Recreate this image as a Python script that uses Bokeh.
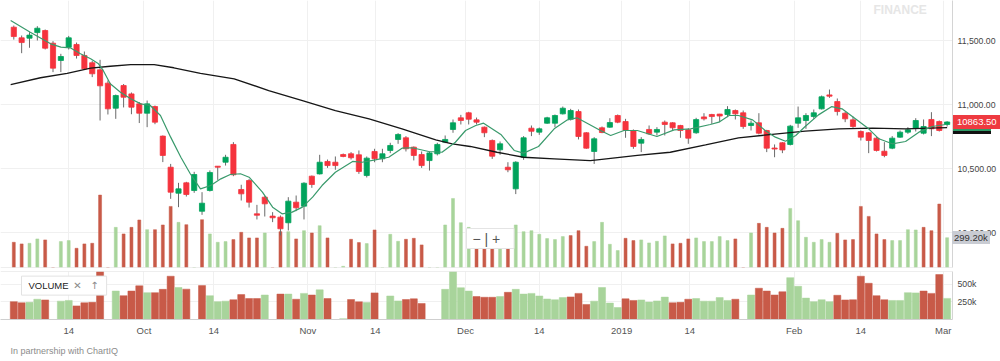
import numpy as np
from bokeh.plotting import figure
from bokeh.models import (Range1d, FixedTicker, NumeralTickFormatter, Label, Span,
                          Title, ColumnDataSource, GridBox, Div)
from bokeh.embed import file_html
from bokeh.resources import INLINE

# ---------------- data ----------------
opens = [11604, 11521, 11518, 11562, 11578, 11479, 11344, 11448, 11469, 11383,
         11326, 11271, 11167, 10971, 11148, 11083, 11005, 10932, 10984, 10753,
         10510, 10307, 10388, 10328, 10166, 10328, 10518, 10549, 10688, 10336,
         10406, 10146, 10276, 10128, 10120, 10076, 10237, 10206, 10440, 10458,
         10555, 10549, 10609, 10615, 10607, 10445, 10633, 10576, 10641, 10727,
         10740, 10667, 10609, 10562, 10615, 10706, 10805, 10896, 10935, 10880,
         10823, 10719, 10646, 10510, 10341, 10588, 10815, 10784, 10854, 10854,
         10927, 10885, 10945, 10779, 10633, 10818, 10823, 10914, 10867, 10797,
         10698, 10805, 10784, 10862, 10857, 10836, 10802, 10779, 10903, 10922,
         10925, 10922, 10953, 10935, 10836, 10857, 10797, 10660, 10701, 10688,
         10854, 10875, 10906, 10966, 11075, 11023, 10932, 10880, 10789, 10779,
         10737, 10635, 10659, 10745, 10784, 10815, 10776, 10883, 10867, 10844]
highs = [11617, 11539, 11565, 11612, 11586, 11495, 11396, 11536, 11484, 11414,
         11341, 11349, 11188, 11078, 11160, 11094, 11019, 11031, 10992, 10758,
         10536, 10388, 10396, 10474, 10315, 10485, 10518, 10607, 10706, 10373,
         10418, 10216, 10284, 10159, 10133, 10276, 10289, 10393, 10445, 10607,
         10570, 10594, 10617, 10628, 10641, 10594, 10654, 10654, 10701, 10776,
         10753, 10672, 10633, 10633, 10701, 10758, 10883, 10919, 10943, 10898,
         10828, 10727, 10711, 10549, 10557, 10753, 10836, 10820, 10904, 10922,
         10984, 10966, 10961, 10784, 10745, 10828, 10893, 10922, 10888, 10805,
         10745, 10836, 10823, 10875, 10862, 10841, 10815, 10896, 10932, 10927,
         10927, 10987, 10961, 10953, 10875, 10932, 10802, 10688, 10706, 10841,
         10984, 10932, 10961, 11070, 11117, 11047, 10943, 10906, 10797, 10784,
         10745, 10706, 10753, 10797, 10823, 10893, 10883, 10940, 10875, 10870]
lows = [11507, 11401, 11443, 11500, 11430, 11253, 11253, 11430, 11359, 11271,
        11214, 10875, 10922, 10888, 10977, 10924, 10855, 10823, 10846, 10550,
        10263, 10198, 10281, 10310, 10138, 10320, 10411, 10523, 10440, 10250,
        10195, 10102, 10125, 10081, 9977, 10016, 10167, 10102, 10349, 10453,
        10505, 10490, 10588, 10570, 10458, 10430, 10549, 10549, 10620, 10693,
        10633, 10563, 10505, 10484, 10602, 10698, 10779, 10844, 10844, 10844,
        10745, 10575, 10607, 10471, 10300, 10568, 10753, 10763, 10849, 10823,
        10922, 10875, 10727, 10654, 10536, 10776, 10818, 10854, 10740, 10654,
        10628, 10763, 10758, 10758, 10800, 10740, 10693, 10771, 10875, 10849,
        10862, 10901, 10883, 10810, 10797, 10766, 10628, 10588, 10620, 10680,
        10818, 10810, 10888, 10961, 11052, 10914, 10862, 10818, 10719, 10620,
        10633, 10588, 10651, 10740, 10771, 10789, 10766, 10753, 10789, 10828]
closes = [11531, 11484, 11542, 11596, 11440, 11284, 11375, 11521, 11383, 11279,
          11240, 11146, 10966, 11070, 11057, 10979, 10932, 11005, 10862, 10602,
          10315, 10341, 10297, 10453, 10229, 10469, 10510, 10588, 10451, 10302,
          10237, 10135, 10224, 10115, 10029, 10245, 10193, 10385, 10375, 10549,
          10523, 10523, 10594, 10584, 10477, 10581, 10576, 10615, 10680, 10766,
          10654, 10602, 10523, 10622, 10688, 10727, 10857, 10875, 10885, 10862,
          10779, 10596, 10693, 10490, 10549, 10740, 10791, 10810, 10896, 10914,
          10971, 10953, 10750, 10659, 10732, 10781, 10859, 10862, 10797, 10672,
          10727, 10771, 10805, 10844, 10818, 10797, 10737, 10882, 10888, 10906,
          10910, 10961, 10927, 10828, 10854, 10776, 10659, 10652, 10645, 10831,
          10896, 10914, 10935, 11060, 11065, 10945, 10888, 10828, 10745, 10719,
          10641, 10602, 10737, 10784, 10802, 10875, 10828, 10810, 10797, 10863.5]
# volume in thousands (0 = no volume reported that day)
volumes_k = [253, 237, 243, 287, 277, 0, 260, 270, 193, 237,
             243, 727, 0, 403, 337, 403, 477, 380, 380, 427,
             613, 453, 430, 0, 480, 337, 253, 260, 280, 353,
             297, 297, 347, 0, 360, 360, 287, 370, 347, 420,
             297, 0, 12, 283, 250, 240, 377, 0, 333, 263,
             283, 293, 227, 0, 0, 427, 693, 450, 403, 325,
             315, 315, 325, 385, 427, 360, 370, 333, 290, 280,
             310, 320, 370, 213, 260, 453, 233, 170, 293, 270,
             277, 247, 263, 317, 237, 243, 287, 297, 260, 260,
             310, 270, 287, 0, 347, 443, 403, 347, 393, 593,
             470, 303, 253, 280, 253, 343, 277, 280, 613, 513,
             337, 280, 270, 270, 380, 377, 403, 370, 637, 299.2]

# short moving average (green) read at sample positions (bar index, price)
ma_short_x = [-0.4, 2.1, 4.7, 6.0, 7.2, 8.5, 9.8, 10.8, 11.4, 12.3,
              13.6, 14.9, 16.2, 17.4, 18.7, 20.0, 21.3, 22.5, 23.8, 25.1,
              26.4, 27.6, 28.9, 30.0, 31.7, 33.0, 34.2, 35.5, 36.8, 38.1,
              39.3, 41.0, 43.2, 44.4, 46.1, 47.8, 49.5, 50.8, 52.9, 54.6,
              56.3, 57.6, 58.9, 59.9, 62.1, 63.8, 65.0, 66.9, 68.9, 70.6,
              71.8, 73.1, 74.8, 76.1, 77.8, 79.5, 82.0, 84.2, 86.3, 88.8,
              89.9, 91.2, 92.4, 94.2, 95.8, 97.1, 98.4, 99.7, 100.9, 102.6,
              104.3, 105.6, 107.3, 109.0, 110.3, 112.0, 113.7, 115.4, 117.1, 118.8]
ma_short_y = [11656, 11565, 11474, 11448, 11443, 11396, 11357, 11318, 11266, 11162,
              11096, 11045, 11005, 10992, 10914, 10745, 10588, 10459, 10341, 10367,
              10419, 10453, 10459, 10432, 10315, 10198, 10146, 10159, 10198, 10276,
              10367, 10471, 10555, 10549, 10568, 10588, 10659, 10662, 10633, 10627,
              10705, 10797, 10836, 10854, 10766, 10641, 10620, 10672, 10810, 10880,
              10896, 10854, 10797, 10758, 10797, 10797, 10750, 10802, 10810, 10844,
              10862, 10914, 10914, 10880, 10797, 10745, 10713, 10758, 10828, 10919,
              10984, 10966, 10888, 10810, 10732, 10693, 10711, 10784, 10828, 10844]
# long moving average (black)
ma_long_x = [-0.4, 3.4, 6.8, 9.8, 12.3, 14.9, 17.9, 20.4, 23.8, 28.1,
             32.5, 36.8, 41.0, 45.3, 49.5, 53.8, 55.9, 58.2, 61.6, 65.0,
             68.9, 73.5, 74.4, 79.5, 83.7, 88.2, 92.4, 96.7, 100.9, 105.2,
             109.5, 113.7, 117.9, 119.0]
ma_long_y = [11156, 11209, 11244, 11284, 11299, 11312, 11312, 11287, 11244, 11201,
             11109, 11031, 10953, 10888, 10810, 10724, 10693, 10672, 10627, 10588,
             10576, 10562, 10568, 10602, 10627, 10685, 10740, 10766, 10792, 10810,
             10815, 10810, 10818, 10820]

tick_pos = [7.0, 16.6, 25.5, 37.5, 46.1, 57.6, 67.0, 77.5, 86.2, 99.5, 108.0, 118.5]
tick_labels = ["14", "Oct", "14", "Nov", "14", "Dec", "14", "2019", "14", "Feb", "14", "Mar"]
price_ticks = [10000, 10500, 11000, 11500]
vol_ticks = [250000, 500000]
vol_tick_labels = ["250k", "500k"]

# ---------------- styling ----------------
FONT = "Liberation Sans"
UP, DOWN = "#00a35c", "#f5333d"
VUP, VDOWN = "#a8d49b", "#c85a48"
WICK = "#6a6a6a"
GRID = "#f0f0f0"

o = np.array(opens, float); h = np.array(highs, float)
l = np.array(lows, float); c = np.array(closes, float)
vol = np.array(volumes_k, float) * 1000
n = len(c)
idx = np.arange(n)
prev = np.r_[o[0], c[:-1]]
body_col = np.where(c >= o, UP, DOWN)
vol_col = np.where(c >= prev, VUP, VDOWN)

src = ColumnDataSource(dict(x=idx, o=o, h=h, l=l, c=c,
                            top=np.maximum(o, c), bot=np.minimum(o, c),
                            vol=vol, bc=body_col, vc=vol_col))

# layout geometry
FRAME_W = 952
AXIS_W = 48
MAIN_H = 267
LOW_H = 51
X0 = -13.3 / 7.843
X1 = X0 + FRAME_W / 7.843
P0, P1 = 9726.6, 11812.5
V_MAIN_END = 2680000
V_LOW_END = 680000

def x_of(px):
    return X0 + px * (X1 - X0) / FRAME_W

def main_y(px):
    return P1 - px * (P1 - P0) / MAIN_H

def low_y(px):  # px measured from top of lower frame
    return V_LOW_END * (LOW_H - px) / LOW_H

xr = Range1d(X0, X1)
price_range = Range1d(P0, P1)
vol_range = Range1d(0, V_MAIN_END)

main = figure(width=FRAME_W + AXIS_W, height=MAIN_H + 2, x_range=xr, y_range=price_range,
              output_backend="svg", toolbar_location=None,
              min_border_left=0, min_border_right=AXIS_W, min_border_top=0, min_border_bottom=2,
              x_axis_location=None, y_axis_location="right",
              background_fill_color="white", border_fill_color="white")
main.outline_line_color = None
main.extra_y_ranges = {"vol": vol_range}

ya = main.yaxis[0]
ya.ticker = FixedTicker(ticks=price_ticks)
ya.formatter = NumeralTickFormatter(format="0,0.00")
ya.major_tick_line_color = None
ya.major_tick_out = 0
ya.major_tick_in = 0
ya.minor_tick_line_color = None
ya.minor_tick_out = 0
ya.axis_line_color = "#d4d4d4"
ya.major_label_text_font = FONT
ya.major_label_text_font_size = "8.7px"
ya.major_label_text_color = "#444444"
ya.major_label_standoff = 5

main.ygrid.ticker = FixedTicker(ticks=price_ticks)
main.ygrid.grid_line_color = GRID
main.xgrid.ticker = FixedTicker(ticks=tick_pos)
main.xgrid.grid_line_color = GRID

# volume overlay in price panel
main.vbar(x="x", top="vol", bottom=0, width=0.38, fill_color="vc", line_color="vc",
          line_width=0.5, y_range_name="vol", source=src)
# candles
main.segment(x0="x", y0="h", x1="x", y1="l", line_color=WICK, line_width=1, source=src)
main.vbar(x="x", top="top", bottom="bot", width=0.66, fill_color="bc", line_color="bc",
          line_width=0.8, source=src)
# moving averages
main.line(ma_long_x, ma_long_y, line_color="#161616", line_width=1.3)
main.line(ma_short_x, ma_short_y, line_color="#3a9a6c", line_width=1.2)

main.add_layout(Span(location=P0, dimension="width", line_color="#dedede", line_width=1))

# watermark
main.add_layout(Label(x=x_of(873), y=main_y(9), text="FINANCE", text_font=FONT,
                      text_font_size="12px", text_font_style="bold", text_color="#e6e6e6",
                      text_baseline="alphabetic", text_align="left"))

# zoom control
main.add_layout(Label(x=x_of(466), y=main_y(238), text="\u2212  |  +", text_font=FONT,
                      text_font_size="14px", text_color="#555555", text_baseline="middle",
                      text_align="left", background_fill_color="white",
                      border_line_color="#e4e4e4", padding=dict(left=6, right=6, top=2, bottom=2)))

# ---------------- value tags over the price axis (HTML overlay in the axis cell) ----------------
def price_px(p):
    return (P1 - p) / (P1 - P0) * MAIN_H

def vol_px(v):
    return MAIN_H - v / V_MAIN_END * MAIN_H

def tag_html(center_px, text, bg, fg="#ffffff", size=9, height=14, padx=4, left=1, width=None):
    w = f"width:{width}px;" if width is not None else ""
    return (f'<div style="position:absolute;left:{left}px;top:{center_px - height / 2:.1f}px;'
            f'height:{height}px;line-height:{height}px;padding:0 {padx}px;{w}background:{bg};'
            f'color:{fg};font-family:\'{FONT}\';font-size:{size}px;white-space:nowrap;">'
            f'{text}</div>')

tags_html = ('<div style="position:relative;width:%dpx;height:%dpx;">' % (AXIS_W, MAIN_H + 2)
             # moving-average tags, almost fully hidden behind the price tag
             + tag_html(price_px(ma_long_y[-1]), "", "#111111", width=38)
             + tag_html(price_px(ma_short_y[-1]), "", "#2f9a66", width=38)
             + tag_html(price_px(c[-1]), f"{c[-1]:.2f}", "#ee3a40", size=9.5)
             + tag_html(vol_px(vol[-1]), f"{vol[-1] / 1000:.2f}k", "#c9ccd3", fg="#333333",
                        size=9.5, height=13, padx=2, left=0)
             + '</div>')
tags = Div(text=tags_html, width=AXIS_W, height=MAIN_H + 2, align=("end", "start"),
           margin=0, styles={"z-index": "10"})

# ---------------- lower volume panel ----------------
low = figure(width=FRAME_W + AXIS_W, height=361 - (MAIN_H + 2), x_range=xr,
             y_range=Range1d(0, V_LOW_END),
             output_backend="svg", toolbar_location=None,
             min_border_left=0, min_border_right=AXIS_W, min_border_top=2, min_border_bottom=39,
             y_axis_location="right",
             background_fill_color="white", border_fill_color="white")
low.outline_line_color = None
low.vbar(x="x", top="vol", bottom=0, width=0.9, fill_color="vc", line_color="vc",
         line_width=0.5, source=src)
low.add_layout(Span(location=V_LOW_END, dimension="width", line_color="#dedede", line_width=1))

lya = low.yaxis[0]
lya.ticker = FixedTicker(ticks=vol_ticks)
lya.major_label_overrides = dict(zip(vol_ticks, vol_tick_labels))
lya.major_tick_line_color = None
lya.major_tick_out = 0
lya.major_tick_in = 0
lya.minor_tick_line_color = None
lya.minor_tick_out = 0
lya.axis_line_color = "#d4d4d4"
lya.major_label_text_font = FONT
lya.major_label_text_font_size = "8.7px"
lya.major_label_text_color = "#444444"
lya.major_label_standoff = 5

xa = low.xaxis[0]
xa.ticker = FixedTicker(ticks=tick_pos)
xa.major_label_overrides = dict(zip(tick_pos, tick_labels))
xa.major_tick_line_color = None
xa.major_tick_out = 0
xa.major_tick_in = 0
xa.minor_tick_line_color = None
xa.minor_tick_out = 0
xa.axis_line_color = "#cfcfcf"
xa.major_label_text_font = FONT
xa.major_label_text_font_size = "9.5px"
xa.major_label_text_color = "#555555"
xa.major_label_standoff = 5

low.ygrid.ticker = FixedTicker(ticks=vol_ticks)
low.ygrid.grid_line_color = GRID
low.xgrid.ticker = FixedTicker(ticks=tick_pos)
low.xgrid.grid_line_color = GRID

low.add_layout(Label(x=x_of(21), y=low_y(15), text="VOLUME", text_font=FONT,
                     text_font_size="9.5px", text_color="#222222", text_baseline="middle",
                     text_align="left", background_fill_color="white",
                     border_line_color="#e2e2e2",
                     padding=dict(left=7, right=38, top=4, bottom=4)))
low.add_layout(Label(x=x_of(77), y=low_y(15), text="\u2715", text_font="DejaVu Sans",
                     text_font_size="10px", text_color="#8a8a8a", text_baseline="middle",
                     text_align="center"))
low.add_layout(Label(x=x_of(94), y=low_y(15), text="\u2191", text_font="DejaVu Sans",
                     text_font_size="10px", text_color="#8a8a8a", text_baseline="middle",
                     text_align="center"))

low.add_layout(Title(text="In partnership with ChartIQ", align="left", text_font=FONT,
                     text_font_size="9px", text_font_style="normal", text_color="#8c8c8c",
                     offset=10, standoff=11), "below")

layout = GridBox(children=[(main, 0, 0, 1, 2), (tags, 0, 1, 1, 1), (low, 1, 0, 1, 2)],
                 spacing=0)

open("out.html", "w").write(file_html(layout, INLINE))
